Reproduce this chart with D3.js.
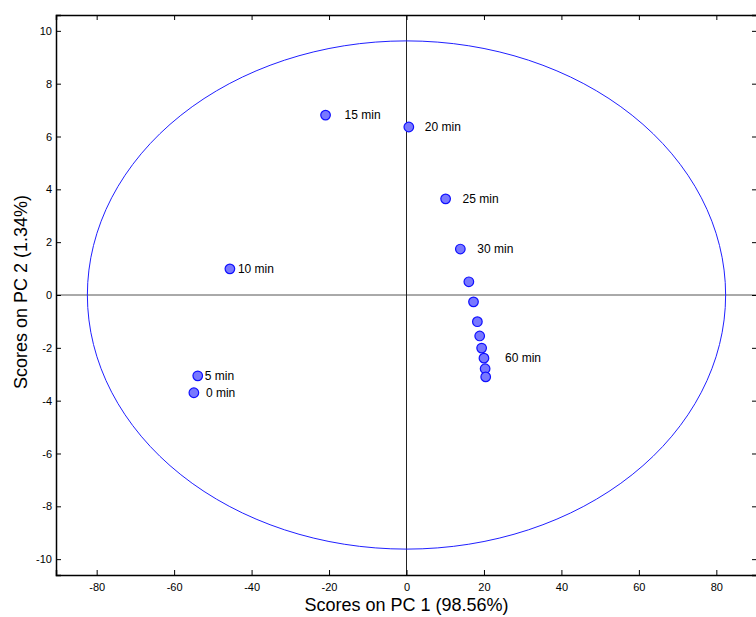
<!DOCTYPE html>
<html>
<head>
<meta charset="utf-8">
<script src="https://cdn.jsdelivr.net/npm/d3@7"></script>
<style>
  html, body { margin: 0; padding: 0; background: #fff; }
  svg { display: block; font-family: "Liberation Sans", Arial, sans-serif; }
</style>
</head>
<body>
<svg id="chart" width="756" height="617"></svg>
<script>
// PCA scores, PC1 vs PC2, one point per sampling time
const pc1Scores = [-54.9, -53.9, -45.6, -20.9, 0.6, 10.1, 13.9, 16.1, 17.3, 18.3, 18.9, 19.4, 20.0, 20.3, 20.45];
const pc2Scores = [-3.70, -3.06, 0.99, 6.81, 6.36, 3.64, 1.74, 0.50, -0.26, -1.01, -1.55, -2.01, -2.39, -2.79, -3.10];
const pointLabels = ["0 min", "5 min", "10 min", "15 min", "20 min", "25 min", "30 min", "", "", "", "", "", "60 min", "", ""];
const xTicks = [-80, -60, -40, -20, 0, 20, 40, 60, 80];
const yTicks = [-10, -8, -6, -4, -2, 0, 2, 4, 6, 8, 10];
// 95% confidence ellipse semi-axes (PC1, PC2)
const ellipseRadii = [82.4, 9.62];
const xTitle = "Scores on PC 1 (98.56%)";
const yTitle = "Scores on PC 2 (1.34%)";

const svg = d3.select("#chart");
const plotL = 56, plotR = 757, plotT = 15, plotB = 575;

const x = d3.scaleLinear().domain([-90.5, 90.5]).range([plotL, plotR]);
const y = d3.scaleLinear().domain([-10.6, 10.6]).range([plotB, plotT]);

// label offsets in pixels from each point
const labelDx = {"0 min": 12, "5 min": 7, "10 min": 8, "15 min": 19, "20 min": 16, "25 min": 17, "30 min": 17, "60 min": 21};

// zero lines
svg.append("line")
  .attr("x1", plotL).attr("x2", plotR)
  .attr("y1", y(0)).attr("y2", y(0))
  .attr("stroke", "#555").attr("stroke-width", 1);
svg.append("line")
  .attr("x1", x(0)).attr("x2", x(0))
  .attr("y1", plotT).attr("y2", plotB)
  .attr("stroke", "#222").attr("stroke-width", 1);

// confidence ellipse
svg.append("ellipse")
  .attr("cx", x(0)).attr("cy", y(0))
  .attr("rx", x(ellipseRadii[0]) - x(0))
  .attr("ry", y(0) - y(ellipseRadii[1]))
  .attr("fill", "none").attr("stroke", "#2020ff").attr("stroke-width", 1);

// axes with inward ticks; plain hyphen for negatives
const tickLen = 5;
const fmt = d => String(d);
const axB = d3.axisBottom(x).tickValues(xTicks).tickSize(-tickLen).tickPadding(8).tickFormat(fmt);
const axT = d3.axisTop(x).tickValues(xTicks).tickSize(-tickLen).tickFormat("");
const axL = d3.axisLeft(y).tickValues(yTicks).tickSize(-tickLen).tickPadding(4).tickFormat(fmt);
const axR = d3.axisRight(y).tickValues(yTicks).tickSize(-tickLen).tickFormat("");

function style(g) {
  g.select(".domain").attr("stroke", "#000").attr("stroke-width", 1.5);
  g.selectAll(".tick line").attr("stroke", "#000");
  g.selectAll(".tick text").attr("fill", "#000").attr("font-size", 11).attr("font-family", "Liberation Sans, Arial, sans-serif");
}
svg.append("g").attr("transform", `translate(0,${plotB})`).call(axB).call(style);
svg.append("g").attr("transform", `translate(0,${plotT})`).call(axT).call(style);
svg.append("g").attr("transform", `translate(${plotL},0)`).call(axL).call(style);
svg.append("g").attr("transform", `translate(${plotR},0)`).call(axR).call(style);

// score points
const pts = pc1Scores.map((v, i) => ({pc1: v, pc2: pc2Scores[i], label: pointLabels[i]}));
svg.append("g").selectAll("circle").data(pts).join("circle")
  .attr("cx", d => x(d.pc1)).attr("cy", d => y(d.pc2))
  .attr("r", 4.8)
  .attr("fill", "#7878ff").attr("stroke", "#1010ff").attr("stroke-width", 1.2);

svg.append("g").selectAll("text").data(pts.filter(d => d.label)).join("text")
  .attr("x", d => x(d.pc1) + labelDx[d.label])
  .attr("y", d => y(d.pc2))
  .attr("dy", "0.35em")
  .attr("font-size", 12)
  .attr("fill", "#000")
  .text(d => d.label);

// axis titles
svg.append("text")
  .attr("x", x(0)).attr("y", 611)
  .attr("text-anchor", "middle").attr("font-size", 18).attr("fill", "#000")
  .text(xTitle);
svg.append("text")
  .attr("transform", `translate(27,${y(0) - 3}) rotate(-90)`)
  .attr("text-anchor", "middle").attr("font-size", 18).attr("fill", "#000")
  .text(yTitle);
</script>
</body>
</html>
